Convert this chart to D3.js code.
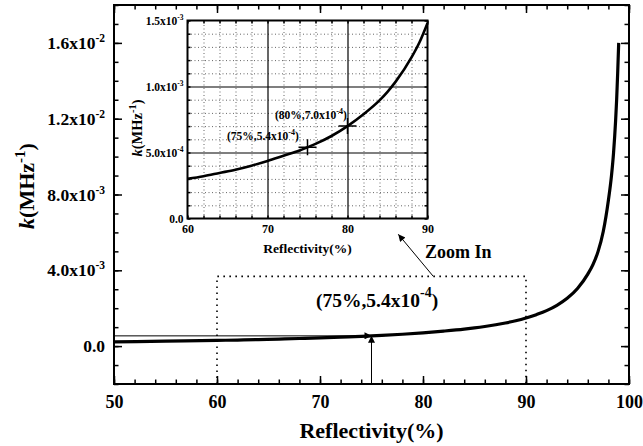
<!DOCTYPE html>
<html><head><meta charset="utf-8">
<script src="https://cdn.jsdelivr.net/npm/d3@7/dist/d3.min.js"></script>
<style>
body{margin:0;background:#fff}
svg text{font-family:"Liberation Serif","Times New Roman",Times,serif !important;font-weight:bold;fill:#000}
</style></head><body>
<svg id="c" width="643" height="446" font-family="Liberation Serif, Times New Roman, serif"></svg>
<script>
// ---- data ----
const reflectivity = [50,55,60,62,64,66,68,70,72,74,75,76,78,80,82,84,85,86,88,89,90,91,92,93,94,95,96,96.5,97,97.5,98,98.3,98.5,98.7,98.8,98.9,99.0];
const kValues = [0.225e-3,0.26e-3,0.30e-3,0.32e-3,0.345e-3,0.37e-3,0.40e-3,0.435e-3,0.475e-3,0.515e-3,0.54e-3,0.565e-3,0.625e-3,0.70e-3,0.79e-3,0.895e-3,0.96e-3,1.035e-3,1.22e-3,1.335e-3,1.48e-3,1.66e-3,1.87e-3,2.15e-3,2.52e-3,3.04e-3,3.80e-3,4.30e-3,5.00e-3,6.05e-3,7.70e-3,9.00e-3,10.2e-3,11.9e-3,13.0e-3,14.4e-3,16.0e-3];

const mainXTicks = [50,60,70,80,90,100];
const mainXLabels = ["50","60","70","80","90","100"];
const mainYTicks = [0,0.004,0.008,0.012,0.016];
const mainYLabels = [["0.0",""],["4.0x10","-3"],["8.0x10","-3"],["1.2x10","-2"],["1.6x10","-2"]];

const insetXTicks = [60,70,80,90];
const insetXLabels = ["60","70","80","90"];
const insetYTicks = [0,0.0005,0.001,0.0015];
const insetYLabels = [["0.0",""],["5.0x10","-4"],["1.0x10","-3"],["1.5x10","-3"]];

const markedPoints = [{r:75,k:5.4e-4,t:"(75%,5.4x10",s:"-4",e:")"},{r:80,k:7.0e-4,t:"(80%,7.0x10",s:"-4",e:")"}];
const zoomBox = {r0:60,r1:90,k0:-0.002,k1:0.00368};
const zoomArrow = {from:[81,0.00368],to:[77.6,0.0059]};

const data = reflectivity.map((r,i)=>({r:r,k:kValues[i]}));

const svg = d3.select("#c");
svg.append("defs").append("marker").attr("id","ah").attr("viewBox","0 0 10 10")
  .attr("refX",10).attr("refY",5).attr("markerWidth",9).attr("markerHeight",7)
  .attr("markerUnits","userSpaceOnUse").attr("orient","auto")
  .append("path").attr("d","M0,0L10,5L0,10Z").attr("fill","#000");

// ---- main plot ----
const M = {l:114,r:629,t:5,b:384};
const x = d3.scaleLinear().domain([50,100]).range([M.l,M.r]);
const y = d3.scaleLinear().domain([-0.002,0.018]).range([M.b,M.t]);

function supLabels(g, labels, supSize, supDy){
  g.selectAll(".tick text").each(function(d,i){
    const t = d3.select(this); const lab = labels[i];
    t.text(null);
    t.append("tspan").text(lab[0]);
    if(lab[1]) t.append("tspan").attr("font-size",supSize).attr("dy",-supDy).text(lab[1]);
  });
}
function styleAxis(g, fs){
  g.attr("font-size",fs).attr("font-family","Liberation Serif, Times New Roman, serif");
  g.select(".domain").remove();
  g.selectAll(".tick line").attr("stroke-width",1.5);
}

// minor ticks
const xMinor = d3.range(50,100.1,2);
const yMinor = d3.range(-0.002,0.01801,0.001);
[[d3.axisBottom(x),`translate(0,${M.b})`],[d3.axisTop(x),`translate(0,${M.t})`]].forEach(([a,tr])=>{
  svg.append("g").attr("transform",tr).call(a.tickValues(xMinor).tickSize(-4.5).tickFormat("")).call(g=>styleAxis(g,10));
});
[[d3.axisLeft(y),`translate(${M.l},0)`],[d3.axisRight(y),`translate(${M.r},0)`]].forEach(([a,tr])=>{
  svg.append("g").attr("transform",tr).call(a.tickValues(yMinor).tickSize(-4.5).tickFormat("")).call(g=>styleAxis(g,10));
});
// major ticks
svg.append("g").attr("transform",`translate(0,${M.b})`)
  .call(d3.axisBottom(x).tickValues(mainXTicks).tickSize(-8).tickPadding(11).tickFormat((d,i)=>mainXLabels[i]))
  .call(g=>styleAxis(g,18));
svg.append("g").attr("transform",`translate(0,${M.t})`)
  .call(d3.axisTop(x).tickValues(mainXTicks).tickSize(-8).tickFormat(""))
  .call(g=>styleAxis(g,18));
const gy = svg.append("g").attr("transform",`translate(${M.l},0)`)
  .call(d3.axisLeft(y).tickValues(mainYTicks).tickSize(-8).tickPadding(9))
  .call(g=>styleAxis(g,17.5));
supLabels(gy, mainYLabels, 11.5, 7);
svg.append("g").attr("transform",`translate(${M.r},0)`)
  .call(d3.axisRight(y).tickValues(mainYTicks).tickSize(-8).tickFormat(""))
  .call(g=>styleAxis(g,17));

// axis titles
svg.append("text").attr("x",(M.l+M.r)/2).attr("y",438).attr("text-anchor","middle")
  .attr("font-size",22).text("Reflectivity(%)");
const yt = svg.append("text").attr("transform","translate(34,186) rotate(-90)")
  .attr("text-anchor","middle").attr("font-size",22);
yt.append("tspan").attr("font-style","italic").text("k");
yt.append("tspan").text("(MHz");
yt.append("tspan").attr("font-size",15).attr("dy",-9).text("-1");
yt.append("tspan").attr("dy",9).text(")");

// dotted zoom box
svg.append("path").attr("fill","none").attr("stroke","#000").attr("stroke-width",1.6)
  .attr("stroke-dasharray","1.6,4.4")
  .attr("d",d3.line()([[x(zoomBox.r0),y(zoomBox.k0)],[x(zoomBox.r0),y(zoomBox.k1)],[x(zoomBox.r1),y(zoomBox.k1)],[x(zoomBox.r1),y(zoomBox.k0)]]));

// marker lines
const mp = markedPoints[0];
svg.append("line").attr("x1",x(50)).attr("x2",x(mp.r)).attr("y1",y(mp.k)).attr("y2",y(mp.k))
  .attr("stroke","#000").attr("stroke-width",1).attr("marker-end","url(#ah)");
svg.append("line").attr("x1",x(mp.r)).attr("x2",x(mp.r)).attr("y1",y(-0.002)).attr("y2",y(mp.k))
  .attr("stroke","#000").attr("stroke-width",1).attr("marker-end","url(#ah)");

// main curve
svg.append("path").datum(data).attr("fill","none").attr("stroke","#000").attr("stroke-width",3.2)
  .attr("d",d3.line().x(d=>x(d.r)).y(d=>y(d.k)).curve(d3.curveMonotoneX));

// frame
svg.append("rect").attr("x",M.l).attr("y",M.t).attr("width",M.r-M.l).attr("height",M.b-M.t)
  .attr("fill","none").attr("stroke","#000").attr("stroke-width",2);

// main annotation
const ma = svg.append("text").attr("x",316).attr("y",307).attr("font-size",19.5);
ma.append("tspan").text(mp.t);
ma.append("tspan").attr("font-size",14).attr("dy",-10).text(mp.s);
ma.append("tspan").attr("dy",10).text(mp.e);

// zoom in arrow and text
svg.append("line").attr("x1",x(zoomArrow.from[0])).attr("y1",y(zoomArrow.from[1]))
  .attr("x2",x(zoomArrow.to[0])).attr("y2",y(zoomArrow.to[1]))
  .attr("stroke","#000").attr("stroke-width",1).attr("marker-end","url(#ah)");
svg.append("text").attr("x",425).attr("y",258).attr("font-size",18).text("Zoom In");

// ---- inset ----
const I = {l:187.5,r:427.5,t:20.5,b:218.5};
const ix = d3.scaleLinear().domain([60,90]).range([I.l,I.r]);
const iy = d3.scaleLinear().domain([0,0.0015]).range([I.b,I.t]);
svg.append("rect").attr("x",I.l).attr("y",I.t).attr("width",I.r-I.l).attr("height",I.b-I.t).attr("fill","#fff");

const ixMinor = d3.range(62,89,2).filter(v=>v!==70 && v!==80);
const iyMinor = d3.range(1,15).map(v=>v*1e-4).filter(v=>Math.abs(v-5e-4)>1e-9 && Math.abs(v-1e-3)>1e-9);
// dotted grid
svg.append("g").attr("transform",`translate(0,${I.b})`)
  .call(d3.axisBottom(ix).tickValues(ixMinor).tickSize(-(I.b-I.t)).tickFormat(""))
  .call(g=>{g.select(".domain").remove(); g.selectAll(".tick line").attr("stroke","#666").attr("stroke-dasharray","1,2.5");});
svg.append("g").attr("transform",`translate(${I.l},0)`)
  .call(d3.axisLeft(iy).tickValues(iyMinor).tickSize(-(I.r-I.l)).tickFormat(""))
  .call(g=>{g.select(".domain").remove(); g.selectAll(".tick line").attr("stroke","#666").attr("stroke-dasharray","1,2.5");});
// solid grid
svg.append("g").attr("transform",`translate(0,${I.b})`)
  .call(d3.axisBottom(ix).tickValues([70,80]).tickSize(-(I.b-I.t)).tickFormat(""))
  .call(g=>{g.select(".domain").remove(); g.selectAll(".tick line").attr("stroke","#000").attr("stroke-width",1.2);});
svg.append("g").attr("transform",`translate(${I.l},0)`)
  .call(d3.axisLeft(iy).tickValues([5e-4,1e-3]).tickSize(-(I.r-I.l)).tickFormat(""))
  .call(g=>{g.select(".domain").remove(); g.selectAll(".tick line").attr("stroke","#000").attr("stroke-width",1.2);});
// inset minor ticks
[[d3.axisBottom(ix),`translate(0,${I.b})`],[d3.axisTop(ix),`translate(0,${I.t})`]].forEach(([a,tr])=>{
  svg.append("g").attr("transform",tr).call(a.tickValues(d3.range(60,90.1,2)).tickSize(-3).tickFormat("")).call(g=>styleAxis(g,10));
});
[[d3.axisLeft(iy),`translate(${I.l},0)`],[d3.axisRight(iy),`translate(${I.r},0)`]].forEach(([a,tr])=>{
  svg.append("g").attr("transform",tr).call(a.tickValues(d3.range(0,16).map(v=>v*1e-4)).tickSize(-3).tickFormat("")).call(g=>styleAxis(g,10));
});
// inset labels
svg.append("g").attr("transform",`translate(0,${I.b})`)
  .call(d3.axisBottom(ix).tickValues(insetXTicks).tickSize(0).tickPadding(6).tickFormat((d,i)=>insetXLabels[i]))
  .call(g=>styleAxis(g,12));
const igy = svg.append("g").attr("transform",`translate(${I.l},0)`)
  .call(d3.axisLeft(iy).tickValues(insetYTicks).tickSize(0).tickPadding(4))
  .call(g=>styleAxis(g,11.5));
supLabels(igy, insetYLabels, 7.5, 4.5);

svg.append("text").attr("x",(I.l+I.r)/2).attr("y",253).attr("text-anchor","middle")
  .attr("font-size",13.5).text("Reflectivity(%)");
const iyt = svg.append("text").attr("transform","translate(142,128) rotate(-90)")
  .attr("text-anchor","middle").attr("font-size",14.5);
iyt.append("tspan").attr("font-style","italic").text("k");
iyt.append("tspan").text("(MHz");
iyt.append("tspan").attr("font-size",10.5).attr("dy",-6).text("-1");
iyt.append("tspan").attr("dy",6).text(")");

// inset curve
const insetData = data.filter(d=>d.r>=60 && d.r<=90);
svg.append("path").datum(insetData).attr("fill","none").attr("stroke","#000").attr("stroke-width",2.6)
  .attr("d",d3.line().x(d=>ix(d.r)).y(d=>iy(d.k)).curve(d3.curveMonotoneX));

// crosses and labels
markedPoints.forEach((p,i)=>{
  const cx = ix(p.r), cy = iy(p.k);
  svg.append("path").attr("stroke","#000").attr("stroke-width",1.5).attr("fill","none")
    .attr("d",`M${cx-9},${cy}H${cx+9}M${cx},${cy-8}V${cy+8}`);
});
const labPos = [[227,140],[275,119]];
markedPoints.forEach((p,i)=>{
  const t = svg.append("text").attr("x",labPos[i][0]).attr("y",labPos[i][1]).attr("font-size",11.5);
  t.append("tspan").text(p.t);
  t.append("tspan").attr("font-size",8).attr("dy",-5).text(p.s);
  t.append("tspan").attr("dy",5).text(p.e);
});

svg.append("rect").attr("x",I.l).attr("y",I.t).attr("width",I.r-I.l).attr("height",I.b-I.t)
  .attr("fill","none").attr("stroke","#000").attr("stroke-width",2);
</script></body></html>
